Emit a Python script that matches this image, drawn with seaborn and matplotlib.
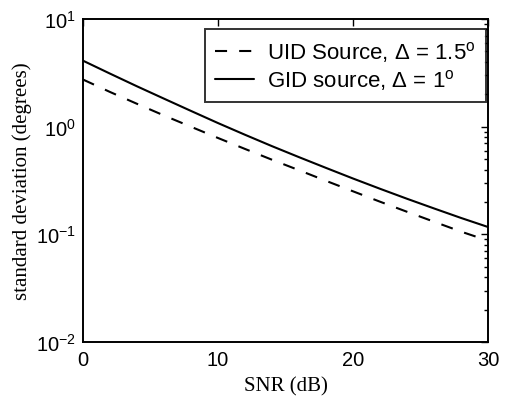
import numpy as np
import pandas as pd
import matplotlib
matplotlib.use("Agg")
import matplotlib.pyplot as plt
import seaborn as sns
from matplotlib.ticker import LogLocator, FixedLocator, NullFormatter

snr = [0, 2, 4, 6, 8, 10, 12, 14, 16, 18, 20, 22, 24, 26, 28, 30]
uid = [2.74, 2.10, 1.63, 1.27, 0.998, 0.785, 0.621, 0.493, 0.394, 0.314,
       0.251, 0.201, 0.162, 0.131, 0.106, 0.0873]
gid = [4.10, 3.11, 2.37, 1.82, 1.40, 1.08, 0.841, 0.659, 0.521, 0.414,
       0.330, 0.265, 0.214, 0.174, 0.142, 0.117]
labels = ["UID Source, $\\Delta$ = 1.5$^\\mathrm{o}$", "GID source, $\\Delta$ = 1$^\\mathrm{o}$"]

df = pd.DataFrame({
    "snr": snr * 2,
    "std": uid + gid,
    "series": [labels[0]] * len(snr) + [labels[1]] * len(snr),
})

sns.set_theme(style="white")
plt.rcParams["font.family"] = ["Liberation Sans", "DejaVu Sans"]
plt.rcParams["mathtext.fontset"] = "custom"
plt.rcParams["mathtext.rm"] = "Liberation Sans"
plt.rcParams["mathtext.it"] = "Liberation Sans:italic"

fig = plt.figure(figsize=(5.05, 4.02), dpi=100)
ax = fig.add_axes([83/505, 1 - 343/402, (488-83)/505, (343-20)/402])

sns.lineplot(data=df, x="snr", y="std", hue="series", style="series",
             palette=["black", "black"], dashes=[(5.8, 5.8), ""],
             linewidth=1.5, ax=ax, legend=True)

ax.set_yscale("log")
ax.set_xlim(0, 30)
ax.set_ylim(1e-2, 1e1)
ax.xaxis.set_major_locator(FixedLocator([0, 10, 20, 30]))
ax.yaxis.set_major_locator(LogLocator(base=10, numticks=10))
ax.yaxis.set_minor_locator(LogLocator(base=10, subs=np.arange(2, 10), numticks=20))
ax.yaxis.set_minor_formatter(NullFormatter())
ax.tick_params(which="both", direction="in", top=True, right=True, colors="black",
               labelsize=14.5, width=1)
ax.tick_params(which="major", length=5)
ax.tick_params(which="minor", length=3)
ax.tick_params(axis="x", pad=6)
ax.tick_params(axis="y", pad=5)
for s in ax.spines.values():
    s.set_color("black")
    s.set_linewidth(1.4)

serif = ["Liberation Serif", "DejaVu Serif"]
ax.set_xlabel("SNR (dB)", family=serif, fontsize=15, color="black", labelpad=5)
ax.set_ylabel("standard deviation (degrees)", family=serif, fontsize=15, color="black", labelpad=3)

leg = ax.legend(loc="upper right", fontsize=16, frameon=True, fancybox=False,
                handlelength=1.75, handletextpad=0.6, borderpad=0.45, labelspacing=0.15,
                borderaxespad=0, bbox_to_anchor=(0.995, 0.969))
leg.get_frame().set_edgecolor("black")
leg.get_frame().set_linewidth(1.4)
for t in leg.get_texts():
    t.set_color("black")

fig.savefig("out.png", dpi=100)
